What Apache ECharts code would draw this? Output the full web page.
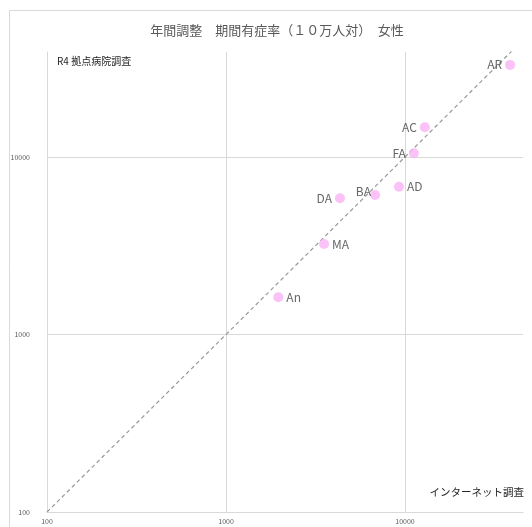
<!DOCTYPE html>
<html>
<head>
<meta charset="utf-8">
<script src="https://cdn.jsdelivr.net/npm/echarts@6/dist/echarts.min.js"></script>
<style>
  html, body { margin: 0; padding: 0; background: #fff; }
  #main { width: 532px; height: 527px; }
</style>
</head>
<body>
<div id="main"></div>
<script>
// values (log-log, per 100k)
const names = ["AR", "AC", "FA", "AD", "BA", "DA", "MA", "An"];
const internetSurvey = [38600, 12900, 11200, 9250, 6800, 4330, 3530, 1960];
const hospitalSurvey = [33000, 14700, 10500, 6800, 6100, 5850, 3230, 1620];
const labelSide = ["left", "left", "left", "right", "left", "left", "right", "right"];
const diagonal = [100, 60000];

const chart = echarts.init(document.getElementById("main"));

const points = names.map((n, i) => ({
  name: n,
  value: [internetSurvey[i], hospitalSurvey[i]],
  label: {
    position: labelSide[i],
    offset: n === "BA" ? [4, -4] : [0, 0]
  }
}));

const axisText = {
  color: "#595959",
  fontSize: 7,
  fontFamily: "Noto Sans CJK JP",
  formatter: v => String(Math.round(v))
};

const option = {
  animation: false,
  backgroundColor: "#fff",
  title: {
    text: "年間調整　期間有症率（１０万人対）　女性",
    left: 272,
    top: 19,
    textAlign: "center",
    textStyle: { color: "#595959", fontSize: 13, fontWeight: "normal", fontFamily: "Noto Sans CJK JP" }
  },
  grid: { left: 47, right: 9, top: 52, bottom: 15 },
  xAxis: {
    type: "log",
    min: 100,
    max: 45600,
    axisLine: { lineStyle: { color: "#d9d9d9" } },
    axisTick: { show: false },
    axisLabel: Object.assign({ showMaxLabel: false, margin: 6 }, axisText),
    splitLine: { show: true, showMaxLine: false, lineStyle: { color: "#d9d9d9" } }
  },
  yAxis: {
    type: "log",
    min: 100,
    max: 39000,
    axisLine: { show: true, lineStyle: { color: "#d9d9d9" } },
    axisTick: { show: false },
    axisLabel: Object.assign({ showMaxLabel: false, margin: 17 }, axisText),
    splitLine: { show: true, showMaxLine: false, lineStyle: { color: "#d9d9d9" } }
  },
  graphic: [
    {
      type: "rect",
      shape: { x: 9.5, y: 10.5, width: 540, height: 540 },
      style: { fill: "none", stroke: "#d9d9d9", lineWidth: 1 },
      silent: true
    },
    {
      type: "text",
      left: 57,
      top: 56,
      style: { text: "R4 拠点病院調査", fill: "#262626", fontSize: 10, fontFamily: "Noto Sans CJK JP" }
    },
    {
      type: "text",
      right: 8,
      top: 487,
      style: { text: "インターネット調査", fill: "#262626", fontSize: 10.5, fontFamily: "Noto Sans CJK JP" }
    }
  ],
  series: [
    {
      type: "line",
      data: [[diagonal[0], diagonal[0]], [diagonal[1], diagonal[1]]],
      showSymbol: false,
      symbol: "none",
      clip: true,
      lineStyle: { color: "#999999", width: 1.2, type: [4, 3] },
      silent: true,
      z: 1
    },
    {
      type: "scatter",
      data: points,
      symbolSize: 10,
      itemStyle: { color: "#f9b3f5" },
      label: {
        show: true,
        formatter: "{b}",
        color: "#404040",
        fontSize: 12,
        distance: 3,
        fontFamily: "Noto Sans CJK JP"
      },
      z: 2
    }
  ]
};

chart.setOption(option);
</script>
</body>
</html>
